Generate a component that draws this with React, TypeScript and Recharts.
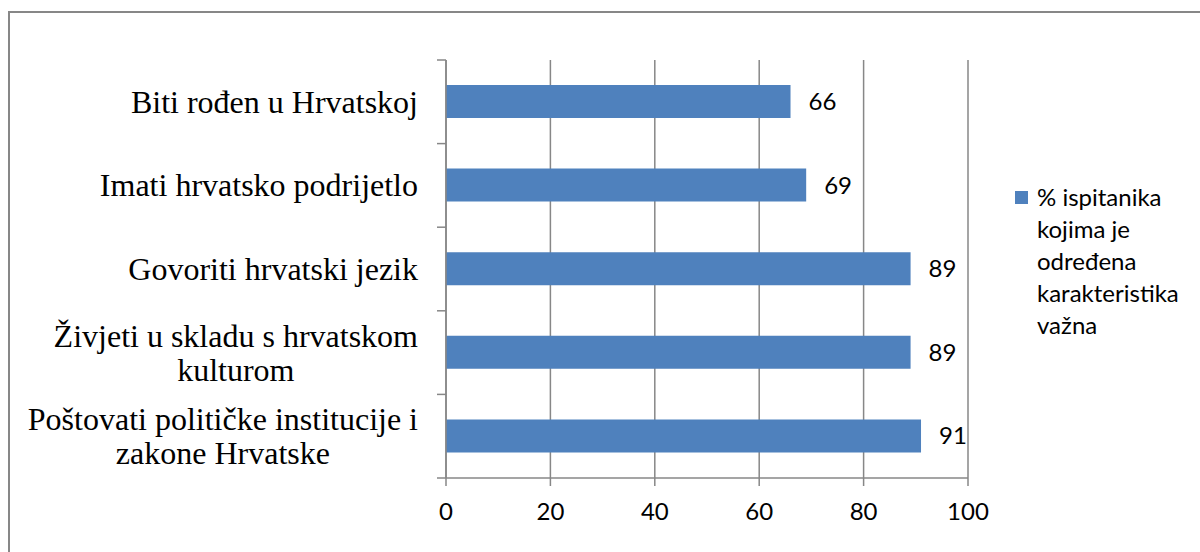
import React from "react";
import { BarChart, Bar, XAxis, YAxis, CartesianGrid, LabelList } from "recharts";

const categories = [
  "Biti rođen u Hrvatskoj",
  "Imati hrvatsko podrijetlo",
  "Govoriti hrvatski jezik",
  "Živjeti u skladu s hrvatskom kulturom",
  "Poštovati političke institucije i zakone Hrvatske",
];
const values = [66, 69, 89, 89, 91];
const seriesName = "% ispitanika kojima je određena karakteristika važna";
const legendLines = ["% ispitanika", "kojima je", "određena", "karakteristika", "važna"];
const xTicks = [0, 20, 40, 60, 80, 100];

const GRAY = "#878787";
const BLUE = "#4F81BD";
const SERIF = "'Liberation Serif', 'Times New Roman', serif";
const SANS = "Lato, 'Noto Sans', sans-serif";
const CAT_SIZE = 32;

const data = categories.map((c, i) => ({ category: c, value: values[i] }));

let ctx: CanvasRenderingContext2D | null = null;
function measure(s: string) {
  if (!ctx) ctx = document.createElement("canvas").getContext("2d");
  if (!ctx) return s.length * CAT_SIZE * 0.45;
  ctx.font = `${CAT_SIZE}px ${SERIF}`;
  return ctx.measureText(s).width;
}

function wrap(s: string, maxW: number) {
  const words = s.split(" ");
  const lines: string[] = [];
  let cur = "";
  words.forEach((w) => {
    const next = cur ? cur + " " + w : w;
    if (cur && measure(next) > maxW) {
      lines.push(cur);
      cur = w;
    } else cur = next;
  });
  if (cur) lines.push(cur);
  return lines;
}

// category label + tick marks on the band boundaries (like Excel)
function CatTick(props: any) {
  const { x, y, payload, index, visibleTicksCount } = props;
  const half = payload.offset || 0;
  const ax = x; // tickSize & tickMargin are 0, so x sits on the axis line
  const lines = wrap(String(payload.value), 400);
  const widest = Math.max(...lines.map(measure));
  const right = ax - 28;
  const multi = lines.length > 1;
  const cx = multi ? right - widest / 2 : right;
  const lh = 34;
  const y0 = y - ((lines.length - 1) * lh) / 2;
  return (
    <g>
      <line x1={ax - 9} x2={ax} y1={y - half} y2={y - half} stroke={GRAY} strokeWidth={1.5} />
      {index === visibleTicksCount - 1 && (
        <line x1={ax - 9} x2={ax} y1={y + half} y2={y + half} stroke={GRAY} strokeWidth={1.5} />
      )}
      <text
        x={cx}
        y={y0}
        textAnchor={multi ? "middle" : "end"}
        dominantBaseline="central"
        fontFamily={SERIF}
        fontSize={CAT_SIZE}
        fill="#000"
      >
        {lines.map((l, i) => (
          <tspan key={i} x={cx} dy={i === 0 ? 0 : lh}>
            {l}
          </tspan>
        ))}
      </text>
    </g>
  );
}

function LegendBox() {
  return (
    <div
      style={{
        position: "absolute",
        left: 1015,
        top: 181,
        fontFamily: SANS,
        fontSize: 24,
        lineHeight: "32px",
        color: "#000",
      }}
      title={seriesName}
    >
      <div style={{ position: "absolute", left: 0, top: 10, width: 13, height: 13, background: BLUE }} />
      <div style={{ marginLeft: 22 }}>
        {legendLines.map((l, i) => (
          <div key={i} style={{ whiteSpace: "nowrap" }}>
            {l}
          </div>
        ))}
      </div>
    </div>
  );
}

export default function App() {
  return (
    <div
      style={{
        position: "absolute",
        left: 0,
        top: 0,
        width: 1200,
        height: 552,
        overflow: "hidden",
        background: "#fff",
      }}
    >
      <div
        style={{
          position: "absolute",
          left: 8,
          top: 11,
          width: 1300,
          height: 700,
          borderLeft: `2px solid ${GRAY}`,
          borderTop: `2px solid ${GRAY}`,
        }}
      />
      <BarChart
        width={1200}
        height={552}
        data={data}
        layout="vertical"
        margin={{ top: 60, right: 232, bottom: 34, left: 0 }}
        barSize={33}
      >
        <CartesianGrid horizontal={false} stroke={GRAY} strokeWidth={1.5} />
        <XAxis
          type="number"
          domain={[0, 100]}
          ticks={xTicks}
          height={40}
          axisLine={{ stroke: GRAY, strokeWidth: 1.5 }}
          tickLine={{ stroke: GRAY, strokeWidth: 1.5 }}
          tickSize={8}
          tickMargin={17}
          tick={{ fill: "#000", fontSize: 24, fontFamily: SANS }}
        />
        <YAxis
          type="category"
          dataKey="category"
          width={446}
          interval={0}
          axisLine={{ stroke: GRAY, strokeWidth: 1.5 }}
          tickLine={false}
          tickSize={0}
          tickMargin={0}
          tick={<CatTick />}
        />
        <Bar dataKey="value" name={seriesName} fill={BLUE} isAnimationActive={false}>
          <LabelList
            dataKey="value"
            position="right"
            offset={18}
            fill="#000"
            fontSize={24}
            fontFamily={SANS}
          />
        </Bar>
      </BarChart>
      <LegendBox />
    </div>
  );
}
